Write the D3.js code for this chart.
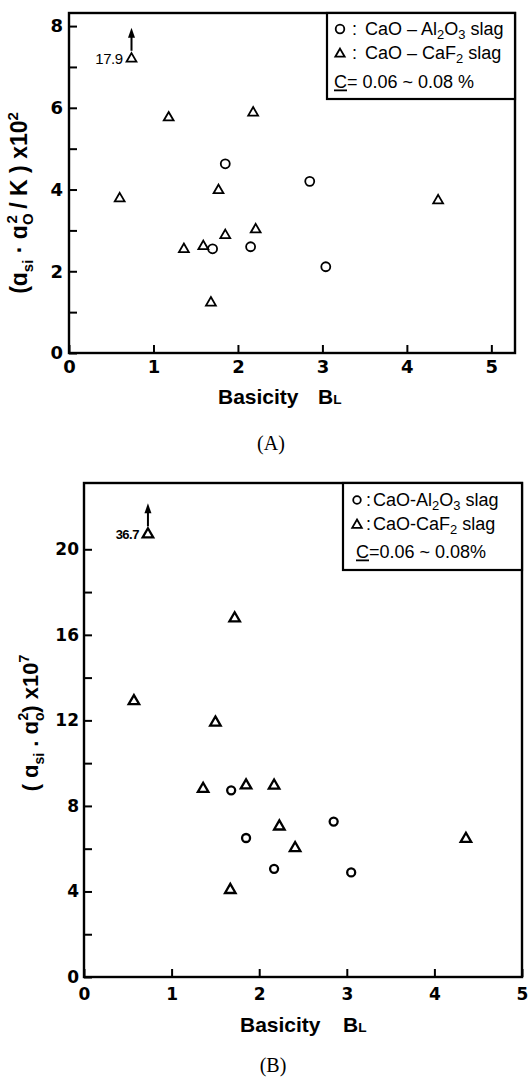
<!DOCTYPE html>
<html><head><meta charset="utf-8">
<script src="https://cdn.jsdelivr.net/npm/d3@7"></script>
<style>body{margin:0;background:#fff} svg{display:block}</style>
</head><body><svg id="c" width="531" height="1079"></svg>
<script>
// ---------- Panel A data ----------
const aCircleX = [1.85, 2.85, 1.70, 2.15, 3.04];
const aCircleY = [4.63, 4.20, 2.55, 2.60, 2.11];
const aTriX = [0.74, 1.18, 2.18, 0.60, 1.77, 4.37, 2.21, 1.85, 1.36, 1.59, 1.68];
const aTriY = [7.20, 5.76, 5.88, 3.78, 3.98, 3.73, 3.02, 2.88, 2.54, 2.61, 1.23];
const aOffX = [0.74], aOffY = [7.20], aOffLabel = ["17.9"];
const aXTicks = [0, 1, 2, 3, 4, 5];
const aYTicks = [0, 2, 4, 6, 8];
const aYMinor = [1, 3, 5, 7];

// ---------- Panel B data ----------
const bCircleX = [1.68, 1.85, 2.85, 2.17, 3.05];
const bCircleY = [8.73, 6.50, 7.27, 5.06, 4.89];
const bTriX = [0.73, 1.72, 0.57, 1.50, 1.36, 1.85, 2.17, 2.23, 2.41, 4.36, 1.67];
const bTriY = [20.7, 16.77, 12.9, 11.9, 8.80, 8.96, 8.95, 7.04, 6.03, 6.46, 4.07];
const bOffX = [0.73], bOffY = [20.7], bOffLabel = ["36.7"];
const bXTicks = [0, 1, 2, 3, 4, 5];
const bYTicks = [0, 4, 8, 12, 16, 20];
const bYMinor = [2, 6, 10, 14, 18];

// legend text pieces: [text, isSubscript]
const legendA1 = [["CaO – Al", 0], ["2", 1], ["O", 0], ["3", 1], ["  slag", 0]];
const legendA2 = [["CaO – CaF", 0], ["2", 1], ["  slag", 0]];
const legendA3 = "= 0.06 ~ 0.08  %";
const legendB1 = [["CaO-Al", 0], ["2", 1], ["O", 0], ["3", 1], [" slag", 0]];
const legendB2 = [["CaO-CaF", 0], ["2", 1], [" slag", 0]];
const legendB3 = "=0.06 ~ 0.08%";

const svg = d3.select("#c");
const SANS = "'Liberation Sans', Arial, sans-serif";
const TICKF = "'DejaVu Sans', sans-serif";

function panel(cfg) {
  const g = svg.append("g");
  const x = d3.scaleLinear().domain(cfg.xDom).range(cfg.xRange);
  const y = d3.scaleLinear().domain(cfg.yDom).range(cfg.yRange);
  const [x0, x1] = cfg.xRange, [y0, y1] = cfg.yRange;

  const ya = g.append("g").attr("transform", `translate(${x0},0)`)
    .call(d3.axisLeft(y).tickValues(cfg.yTicks).tickSize(-cfg.tick).tickPadding(cfg.yPad).tickFormat(d3.format("d")));
  ya.selectAll("text").attr("font-family", TICKF).attr("font-size", cfg.tickFs).attr("font-weight", "bold").attr("fill", "#000");
  ya.selectAll("line").attr("stroke", "#000").attr("stroke-width", 2);
  ya.select(".domain").remove();
  const ym = g.append("g").attr("transform", `translate(${x0},0)`)
    .call(d3.axisLeft(y).tickValues(cfg.yMinor).tickSize(-cfg.tick).tickFormat(""));
  ym.selectAll("line").attr("stroke", "#000").attr("stroke-width", 2);
  ym.select(".domain").remove();

  const xa = g.append("g").attr("transform", `translate(0,${y0})`)
    .call(d3.axisBottom(x).tickValues(cfg.xTicks).tickSize(-cfg.tick).tickPadding(cfg.xPad).tickFormat(d3.format("d")));
  xa.selectAll("text").attr("font-family", TICKF).attr("font-size", cfg.tickFs).attr("font-weight", "bold").attr("fill", "#000");
  xa.selectAll("line").attr("stroke", "#000").attr("stroke-width", 2);
  xa.select(".domain").remove();

  g.append("rect").attr("x", x0).attr("y", y1).attr("width", x1 - x0).attr("height", y0 - y1)
    .attr("fill", "none").attr("stroke", "#000").attr("stroke-width", 2.4);

  // legend
  const L = cfg.legend;
  g.append("rect").attr("x", L.x).attr("y", y1).attr("width", x1 - L.x).attr("height", L.h)
    .attr("fill", "#fff").attr("stroke", "#000").attr("stroke-width", 2.2);
  g.append("circle").attr("cx", L.mx).attr("cy", L.ys[0]).attr("r", L.r)
    .attr("fill", "none").attr("stroke", "#000").attr("stroke-width", 1.8);
  g.append("path").attr("d", d3.symbol(d3.symbolTriangle, L.tri)())
    .attr("transform", `translate(${L.mx},${L.ys[1] + 1})`)
    .attr("fill", "none").attr("stroke", "#000").attr("stroke-width", 1.8);
  [0, 1].forEach(i => {
    g.append("text").attr("x", L.cx).attr("y", L.ys[i] + L.fs * 0.36)
      .attr("font-family", SANS).attr("font-size", L.fs).text(":");
    const t = g.append("text").attr("x", L.tx).attr("y", L.ys[i] + L.fs * 0.36)
      .attr("font-family", SANS).attr("font-size", L.fs);
    let sub = 0;
    cfg.legendText[i].forEach(([s, isSub]) => {
      const dy = (isSub ? 4 : 0) - (sub ? 4 : 0);
      const ts = t.append("tspan").text(s).attr("dy", dy);
      if (isSub) ts.attr("font-size", L.fs * 0.72);
      sub = isSub;
    });
  });
  const t3 = g.append("text").attr("x", L.c3).attr("y", L.ys[2] + L.fs * 0.36)
    .attr("font-family", SANS).attr("font-size", L.fs);
  t3.append("tspan").attr("text-decoration", "underline").text("C");
  t3.append("tspan").text(cfg.legendText[2]);

  // markers
  g.selectAll(".cir").data(cfg.cx.map((v, i) => [v, cfg.cy[i]])).join("circle")
    .attr("cx", d => x(d[0])).attr("cy", d => y(d[1])).attr("r", cfg.r)
    .attr("fill", "none").attr("stroke", "#000").attr("stroke-width", cfg.sw);
  g.selectAll(".tri").data(cfg.tx.map((v, i) => [v, cfg.ty[i]])).join("path")
    .attr("d", d3.symbol(d3.symbolTriangle, cfg.triSize)())
    .attr("transform", d => `translate(${x(d[0])},${y(d[1])})`)
    .attr("fill", "none").attr("stroke", "#000").attr("stroke-width", cfg.sw);

  // off-scale annotations
  cfg.ox.forEach((v, i) => {
    const px = x(v), py = y(cfg.oy[i]);
    g.append("line").attr("x1", px).attr("x2", px).attr("y1", py - 8).attr("y2", py - 24)
      .attr("stroke", "#000").attr("stroke-width", 2);
    g.append("path").attr("d", `M${px},${py - 31}L${px - 3.5},${py - 21}L${px + 3.5},${py - 21}Z`).attr("fill", "#000");
    g.append("text").attr("x", px - 9).attr("y", py + 5).attr("text-anchor", "end")
      .attr("font-family", SANS).attr("font-size", cfg.offFs).attr("font-weight", cfg.offW)
      .attr("letter-spacing", "-0.5").text(cfg.ol[i]);
  });

  // x label
  const xl = g.append("text").attr("x", cfg.xlab[0]).attr("y", cfg.xlab[1])
    .attr("font-family", SANS).attr("font-size", cfg.labFs).attr("font-weight", "bold");
  xl.append("tspan").text("Basicity");
  xl.append("tspan").attr("x", cfg.xlab[2]).text("B");
  xl.append("tspan").attr("font-size", cfg.labFs * 0.65).text("L");

  // y label
  const yl = g.append("text").attr("transform", `translate(${cfg.ylab[0]},${cfg.ylab[1]}) rotate(-90)`)
    .attr("text-anchor", "middle").attr("font-family", SANS).attr("font-size", cfg.ylabFs).attr("font-weight", "bold");
  cfg.ylabParts.forEach(p => {
    const t = yl.append("tspan").text(p.t);
    if (p.dy) t.attr("dy", p.dy);
    if (p.dx) t.attr("dx", p.dx);
    if (p.fs) t.attr("font-size", p.fs);
  });

  svg.append("text").attr("x", cfg.cap[0]).attr("y", cfg.cap[1]).attr("text-anchor", "middle")
    .attr("font-family", "'Liberation Serif', 'DejaVu Serif', serif").attr("font-size", 20).text(cfg.cap[2]);
}

panel({
  xDom: [0, 5.28], xRange: [69, 515], yDom: [0, 8.32], yRange: [353, 13],
  xTicks: aXTicks, yTicks: aYTicks, yMinor: aYMinor, tick: 8, yPad: 6, xPad: 7, tickFs: 18,
  cx: aCircleX, cy: aCircleY, tx: aTriX, ty: aTriY, r: 4.5, triSize: 42, sw: 1.8,
  ox: aOffX, oy: aOffY, ol: aOffLabel, offFs: 15, offW: "normal",
  legend: { x: 327, h: 86, mx: 340, ys: [29, 53, 82], r: 4.3, tri: 38, cx: 352, tx: 365, c3: 334, fs: 18 },
  legendText: [legendA1, legendA2, legendA3],
  xlab: [218, 404, 318], labFs: 21,
  ylab: [27, 203], ylabFs: 23,
  ylabParts: [{ t: "(ɑ" }, { t: "si", dy: 6, fs: 15 }, { t: " · ɑ", dy: -6 }, { t: "O", dy: 6, fs: 15 },
              { t: "2", dx: -10, dy: -16, fs: 15 }, { t: " / K ) x10", dy: 10 }, { t: "2", dy: -9, fs: 15 }],
  cap: [271, 450, "(A)"]
});

panel({
  xDom: [0, 5], xRange: [84, 522], yDom: [0, 23.1], yRange: [977, 483],
  xTicks: bXTicks, yTicks: bYTicks, yMinor: bYMinor, tick: 8, yPad: 5, xPad: 11, tickFs: 17,
  cx: bCircleX, cy: bCircleY, tx: bTriX, ty: bTriY, r: 4, triSize: 48, sw: 2.3,
  ox: bOffX, oy: bOffY, ol: bOffLabel, offFs: 13, offW: "bold",
  legend: { x: 343, h: 87, mx: 357, ys: [500, 524, 552], r: 3.8, tri: 40, cx: 366, tx: 373, c3: 356, fs: 18 },
  legendText: [legendB1, legendB2, legendB3],
  xlab: [240, 1032, 343], labFs: 21,
  ylab: [38, 723], ylabFs: 22,
  ylabParts: [{ t: "( ɑ" }, { t: "si", dy: 6, fs: 14 }, { t: " . ɑ", dy: -6 }, { t: "o", dy: 6, fs: 14 },
              { t: "2", dx: -8, dy: -16, fs: 14 }, { t: ") x10", dy: 10 }, { t: "7", dy: -9, fs: 14 }],
  cap: [273, 1072, "(B)"]
});
</script></body></html>
